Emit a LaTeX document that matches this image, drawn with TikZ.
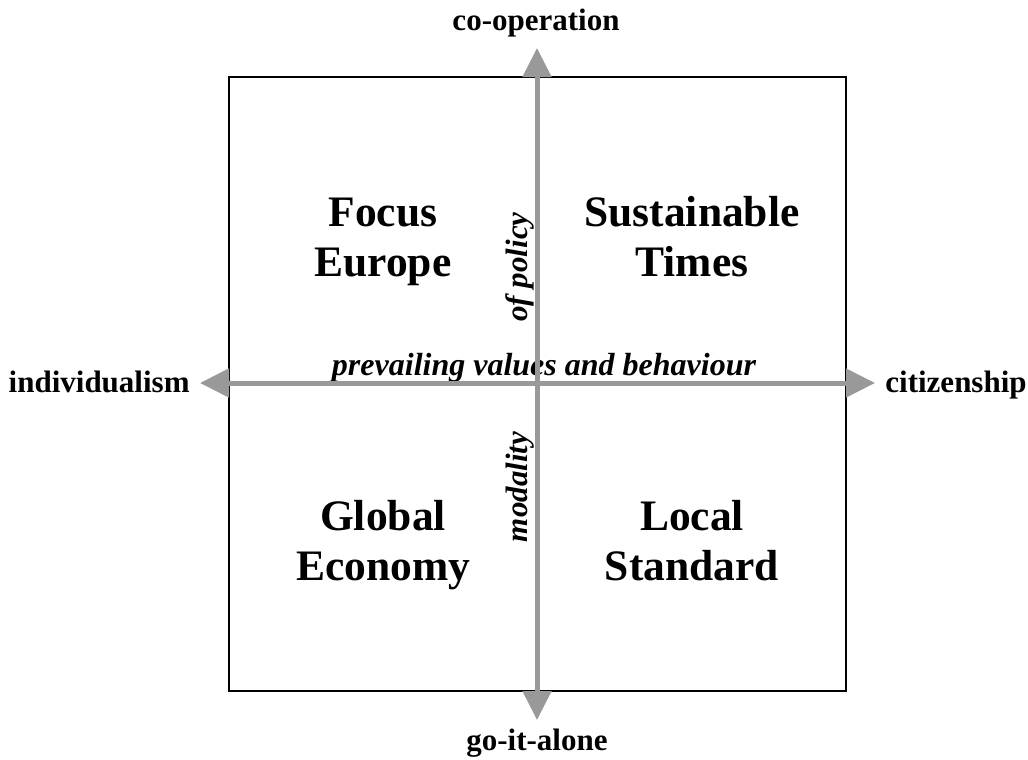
\documentclass[tikz,border=0pt]{standalone}
\usepackage{fontspec}
\setmainfont{Liberation Serif}
\usetikzlibrary{arrows.meta}

\definecolor{axisgray}{RGB}{153,153,153}

\begin{document}
\begin{tikzpicture}
	[x=0.5pt,y=-0.5pt,every node/.style={inner sep=0pt,anchor=base,font=\bfseries\fontsize{15.5}{18}\selectfont},
	 quadrant/.style={align=center,font=\bfseries\fontsize{21.75}{25}\selectfont},
	 axis/.style={line width=2.5pt,draw=axisgray,{Triangle[length=14.5pt,width=14pt,fill=axisgray]}-{Triangle[length=14.5pt,width=14pt,fill=axisgray]}}]
	\useasboundingbox (0,0) rectangle (1028,760);
	\draw[line width=0.75pt] (229,77) rectangle (846,691);

	% ends of the two axes
	\coordinate (n) at (537,48);
	\coordinate (s) at (537,720);
	\coordinate (w) at (200,383);
	\coordinate (e) at (875,383);

	\node (coop) at (536,30) {co-operation};
	\node (alone) at (537,750) {go-it-alone};
	\node[anchor=base east] (indiv) at (190,392) {individualism};
	\node[anchor=base west] (citizen) at (885,392) {citizenship};

	% base of a two-line node is the baseline of its second line
	\node[quadrant] (focus) at (383,276) {Focus\\Europe};
	\node[quadrant] (sustain) at (692,276) {Sustainable\\Times};
	\node[quadrant] (global) at (383,580) {Global\\Economy};
	\node[quadrant] (local) at (692,580) {Local\\Standard};

	\node[font=\bfseries\itshape\fontsize{16}{18}\selectfont] (values) at (544,375) {prevailing values and behaviour};
	\node[font=\bfseries\itshape\fontsize{15.5}{18}\selectfont,rotate=90] (policy) at (527,267) {of policy};
	\node[font=\bfseries\itshape\fontsize{15.5}{18}\selectfont,rotate=90] (modality) at (527,487) {modality};

	\foreach \from/\to in {s/n, w/e}
	\draw[axis] (\from) -- (\to);
	\end{tikzpicture}
\end{document}
